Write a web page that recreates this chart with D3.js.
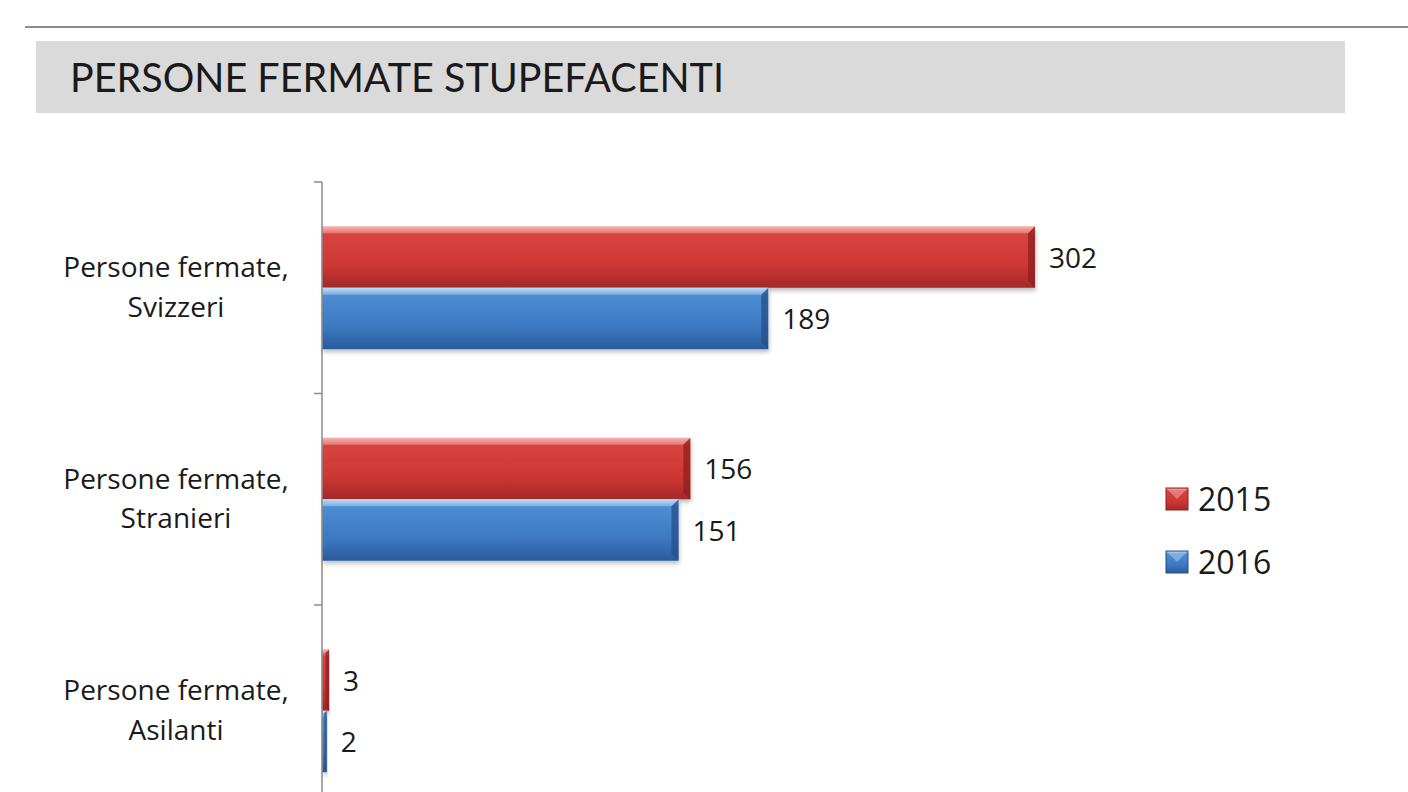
<!DOCTYPE html>
<html>
<head>
<meta charset="utf-8">
<script src="https://cdn.jsdelivr.net/npm/d3@7"></script>
<style>
  body { margin: 0; background: #fff; }
  svg { display: block; }
</style>
</head>
<body>
<script>
'use strict';

const WIDTH = 1408;
const HEIGHT = 792;

const TITLE = 'PERSONE FERMATE STUPEFACENTI';
const CATEGORIES = ['Persone fermate,\nSvizzeri', 'Persone fermate,\nStranieri', 'Persone fermate,\nAsilanti'];
const SERIES = ['2015', '2016'];
const VALUES_2015 = [302, 156, 3];
const VALUES_2016 = [189, 151, 2];

const LABEL_FONT = '"Open Sans", Lato, sans-serif';

function main() {
    const svg = d3.select('body')
            .append('svg')
            .attr('width', WIDTH)
            .attr('height', HEIGHT);

    const defs = svg.append('defs');

    // Vertical gradients give the bars their bevelled, glossy look.
    const palettes = {
        '2015': ['#f59a95', '#d9443f', '#cc3633', '#a32828'],
        '2016': ['#a5d4f6', '#4c8dd4', '#3c78c0', '#2a5b9a']
    };
    SERIES.forEach(function(s) {
        const g = defs.append('linearGradient')
                .attr('id', `grad-${s}`)
                .attr('x1', 0).attr('y1', 0).attr('x2', 0).attr('y2', 1);
        const c = palettes[s];
        g.append('stop').attr('offset', '0%').attr('stop-color', c[0]);
        g.append('stop').attr('offset', '12%').attr('stop-color', c[1]);
        g.append('stop').attr('offset', '65%').attr('stop-color', c[2]);
        g.append('stop').attr('offset', '100%').attr('stop-color', c[3]);
    });

    const shadow = defs.append('filter')
            .attr('id', 'shadow')
            .attr('x', '-5%').attr('y', '-10%')
            .attr('width', '115%').attr('height', '140%');
    shadow.append('feDropShadow')
            .attr('dx', 1).attr('dy', 3)
            .attr('stdDeviation', 2)
            .attr('flood-color', '#000')
            .attr('flood-opacity', 0.25);

    // Header line and grey title band.
    svg.append('line')
            .attr('x1', 25).attr('x2', WIDTH)
            .attr('y1', 27).attr('y2', 27)
            .attr('stroke', '#8c8c8c')
            .attr('stroke-width', 2);

    svg.append('rect')
            .attr('x', 36).attr('y', 41)
            .attr('width', 1309).attr('height', 72)
            .attr('fill', '#dbdadb');

    svg.append('text')
            .attr('x', 70).attr('y', 92)
            .attr('font-family', 'Lato, sans-serif')
            .attr('font-size', 40)
            .attr('fill', '#1a1a1a')
            .attr('textLength', 654)
            .attr('lengthAdjust', 'spacingAndGlyphs')
            .text(TITLE);

    // Scales.
    const x = d3.scaleLinear()
            .domain([0, 350])
            .range([322, 322 + 350 * (713 / 302)]);

    const y = d3.scaleBand()
            .domain(CATEGORIES)
            .range([182, 182 + 3 * 211.5])
            .paddingInner(0)
            .paddingOuter(0);

    const ySeries = d3.scaleBand()
            .domain(SERIES)
            .range([0, y.bandwidth()])
            .paddingInner(0)
            .paddingOuter(0.72);

    const rows = [];
    CATEGORIES.forEach(function(cat, i) {
        rows.push({cat: cat, series: '2015', value: VALUES_2015[i]});
        rows.push({cat: cat, series: '2016', value: VALUES_2016[i]});
    });

    // Bars.
    const bars = svg.append('g')
            .selectAll('g')
            .data(rows)
            .enter()
            .append('g')
            .attr('transform', d => `translate(0,${y(d.cat) + ySeries(d.series)})`);

    const bh = ySeries.bandwidth();

    bars.append('rect')
            .attr('x', x(0))
            .attr('y', 0)
            .attr('width', d => x(d.value) - x(0))
            .attr('height', bh)
            .attr('fill', d => `url(#grad-${d.series})`)
            .attr('filter', 'url(#shadow)');

    // Darker right-hand bevel.
    bars.append('path')
            .attr('d', function(d) {
                const x1 = x(d.value);
                const bw = Math.min(7, (x1 - x(0)) / 2);
                return `M${x1 - bw},${bw} L${x1},0 L${x1},${bh} L${x1 - bw},${bh - bw} Z`;
            })
            .attr('fill', d => d.series === '2015' ? '#8e1f1f' : '#244f8a')
            .attr('opacity', 0.75);

    // Light top bevel.
    bars.append('path')
            .attr('d', function(d) {
                const x0 = x(0);
                const x1 = x(d.value);
                const bw = Math.min(7, (x1 - x0) / 2);
                return `M${x0},0 L${x1},0 L${x1 - bw},${bw} L${x0},${bw} Z`;
            })
            .attr('fill', '#fff')
            .attr('opacity', 0.25);

    // Value labels.
    bars.append('text')
            .attr('x', d => x(d.value) + 14)
            .attr('y', bh / 2 + 1)
            .attr('dy', '0.35em')
            .attr('font-family', LABEL_FONT)
            .attr('font-size', 28)
            .attr('fill', '#1a1a1a')
            .text(d => d.value);

    // Category axis: a vertical line with ticks between the categories.
    const axis = svg.append('g').attr('stroke', '#8a8a8a').attr('stroke-width', 1.5);
    axis.append('line')
            .attr('x1', x(0)).attr('x2', x(0))
            .attr('y1', y.range()[0]).attr('y2', HEIGHT);
    CATEGORIES.forEach(function(cat) {
        axis.append('line')
                .attr('x1', x(0) - 8).attr('x2', x(0))
                .attr('y1', y(cat)).attr('y2', y(cat));
    });

    const catLabels = svg.append('g')
            .selectAll('text')
            .data(CATEGORIES)
            .enter()
            .append('text')
            .attr('x', 176)
            .attr('y', d => y(d) + y.bandwidth() / 2)
            .attr('text-anchor', 'middle')
            .attr('font-family', LABEL_FONT)
            .attr('font-size', 28)
            .attr('fill', '#1a1a1a');
    catLabels.each(function(d) {
        const lines = d.split('\n');
        lines.forEach(function(line, i) {
            d3.select(this).append('tspan')
                    .attr('x', 176)
                    .attr('dy', i === 0 ? '-0.37em' : '1.4em')
                    .text(line);
        }, this);
    });

    // Legend.
    const legend = svg.append('g')
            .selectAll('g')
            .data(SERIES)
            .enter()
            .append('g')
            .attr('transform', (d, i) => `translate(1166,${488 + i * 63})`);

    legend.append('rect')
            .attr('width', 22).attr('height', 22)
            .attr('fill', d => `url(#grad-${d})`)
            .attr('stroke', d => d === '2015' ? '#8e1f1f' : '#244f8a')
            .attr('stroke-width', 1);

    legend.append('path')
            .attr('d', 'M1,1 L11,11 L21,1 Z')
            .attr('fill', '#fff')
            .attr('opacity', 0.3);

    legend.append('text')
            .attr('x', 32)
            .attr('y', 11)
            .attr('dy', '0.36em')
            .attr('font-family', LABEL_FONT)
            .attr('font-size', 32)
            .attr('fill', '#1a1a1a')
            .text(d => d);
}

document.addEventListener('DOMContentLoaded', function() {
    main();
});
</script>
</body>
</html>
